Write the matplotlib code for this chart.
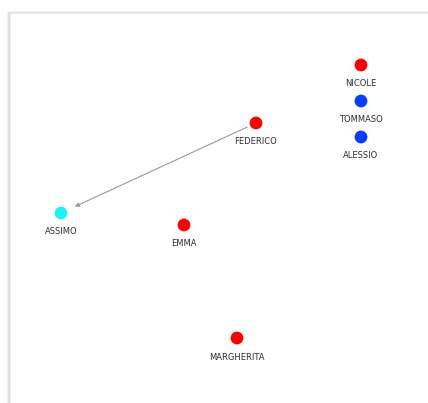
import matplotlib.pyplot as plt
from matplotlib.patches import Rectangle

# node data (positions, in pixel space)
names = ["NICOLE", "TOMMASO", "ALESSIO", "FEDERICO", "ASSIMO", "EMMA", "MARGHERITA"]
xs = [361, 361, 361, 256, 61, 184, 237]
ys = [65, 101, 137, 123, 213, 225, 338]
colors = ["#ff0000", "#0a3cff", "#0a3cff", "#ff0000", "#1ef2f2", "#ff0000", "#ff0000"]

# edges (source, target)
edges = [("FEDERICO", "ASSIMO")]

fig = plt.figure(figsize=(4.28, 4.03), dpi=100)
ax = fig.add_axes([0, 0, 1, 1])
ax.set_xlim(0, 428)
ax.set_ylim(403, 0)
ax.axis("off")

# panel with a soft shadow on the left/top
for i, a in enumerate([0.04, 0.08, 0.12]):
    ax.add_patch(Rectangle((7 + i, 11 + i), 440, 420, fill=False,
                           edgecolor="black", alpha=a, lw=1))
ax.add_patch(Rectangle((10, 13), 440, 420, facecolor="white", edgecolor="#ececec", lw=0.6))

pos = dict(zip(names, zip(xs, ys)))
for s, t in edges:
    (x0, y0), (x1, y1) = pos[s], pos[t]
    ax.annotate("", xy=(x1, y1), xytext=(x0, y0),
                arrowprops=dict(arrowstyle="-|>", color="#999999", lw=0.8,
                                mutation_scale=6, shrinkA=7, shrinkB=11))

ax.scatter(xs, ys, s=85, c=colors, edgecolors="none", zorder=3)
for n, x, y in zip(names, xs, ys):
    ax.text(x, y + 19, n, ha="center", va="center", fontsize=6, color="#2b2b2b")

fig.savefig("out.png", dpi=100)
